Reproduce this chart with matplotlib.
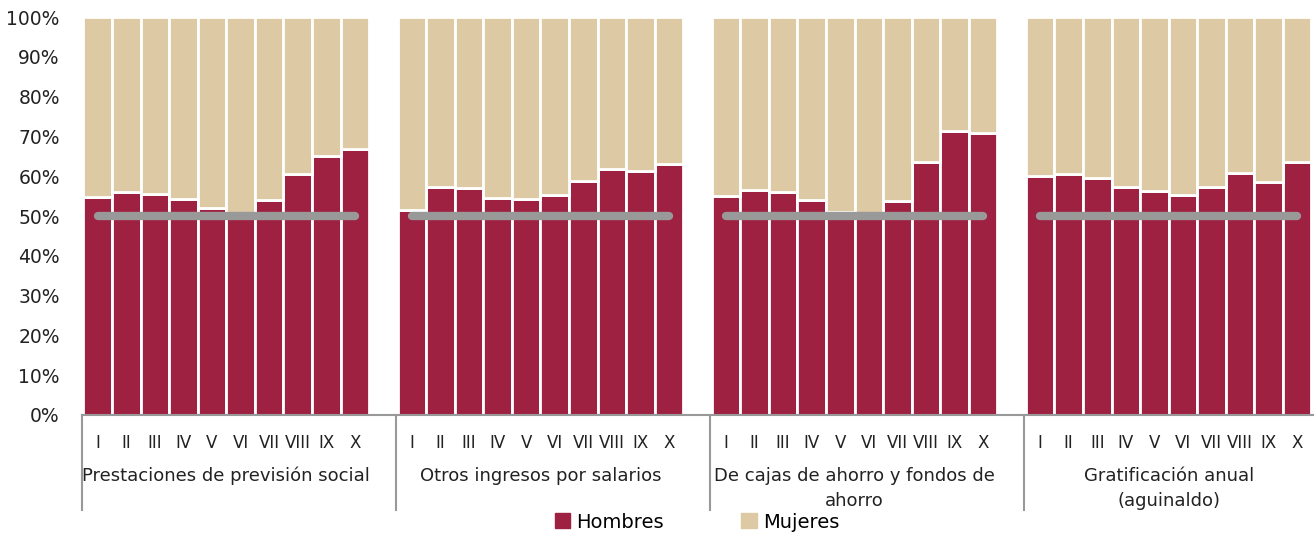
import matplotlib
matplotlib.use("Agg")
import matplotlib.pyplot as plt
import matplotlib.transforms as mtransforms
from matplotlib.patches import Patch

plt.rcParams["font.family"] = ["DejaVu Sans"]

categories = [
    "Prestaciones de previsión social",
    "Otros ingresos por salarios",
    "De cajas de ahorro y fondos de\nahorro",
    "Gratificación anual\n(aguinaldo)",
]
deciles = ["I", "II", "III", "IV", "V", "VI", "VII", "VIII", "IX", "X"]

# share of men (%) per decile, one list per category
hombres_prevision = [54.8, 56.0, 55.6, 54.2, 51.9, 50.8, 53.9, 60.6, 65.0, 66.9]
hombres_otros = [51.5, 57.3, 57.0, 54.6, 54.2, 55.3, 58.8, 61.9, 61.2, 63.1]
hombres_cajas = [55.1, 56.5, 56.0, 53.9, 51.1, 50.5, 53.8, 63.7, 71.4, 70.9]
hombres_aguinaldo = [60.1, 60.6, 59.5, 57.4, 56.4, 55.2, 57.4, 60.7, 58.5, 63.7]
hombres = [hombres_prevision, hombres_otros, hombres_cajas, hombres_aguinaldo]
paridad = 50

c_h = "#9E2142"
c_m = "#DDC9A3"

fig = plt.figure(figsize=(13.15, 5.36), dpi=100)
ax = fig.add_axes([0.0624, 0.226, 0.936, 0.742])

n = len(deciles)
xticks, xlabels = [], []
for g, vals in enumerate(hombres):
    xs = [g * (n + 1) + i for i in range(n)]
    muj = [100 - v for v in vals]
    ax.bar(xs, vals, width=1.0, color=c_h, edgecolor="white", linewidth=2, zorder=2)
    ax.bar(xs, muj, bottom=vals, width=1.0, color=c_m, edgecolor="white", linewidth=2, zorder=2)
    ax.plot([xs[0], xs[-1]], [paridad, paridad], color="#999999", lw=6,
            solid_capstyle="round", zorder=3)
    xticks += xs
    xlabels += deciles

ax.set_xlim(-0.55, 4 * (n + 1) - 1 - 0.45)
ax.set_ylim(0, 100)
ax.set_yticks(range(0, 101, 10))
ax.set_yticklabels([f"{v}%" for v in range(0, 101, 10)], fontsize=13.5, color="#222222")
ax.set_xticks(xticks)
ax.set_xticklabels(xlabels, fontsize=12, color="#222222")
ax.tick_params(axis="both", length=0)
ax.tick_params(axis="x", pad=14)
ax.tick_params(axis="y", pad=16)

for s in ["top", "right", "left"]:
    ax.spines[s].set_visible(False)
ax.spines["bottom"].set_color("#999999")
ax.spines["bottom"].set_linewidth(1.5)

trans = mtransforms.blended_transform_factory(ax.transData, ax.transAxes)
for g, cat in enumerate(categories):
    left = g * (n + 1) - 0.55
    ax.plot([left, left], [0, -0.24], transform=trans, color="#999999", lw=1.5,
            clip_on=False)
    center = g * (n + 1) + (n - 1) / 2
    ax.text(center, -0.13, cat, transform=trans, ha="center", va="top",
            fontsize=13, color="#222222", linespacing=1.5)

handles = [Patch(color=c_h, label="Hombres"), Patch(color=c_m, label="Mujeres")]
fig.legend(handles=handles, loc="center", bbox_to_anchor=(0.53, 0.026), ncol=2,
           frameon=False, fontsize=14, handlelength=0.8, handleheight=0.8,
           handletextpad=0.3, columnspacing=4)

fig.savefig("out.png", dpi=100)
